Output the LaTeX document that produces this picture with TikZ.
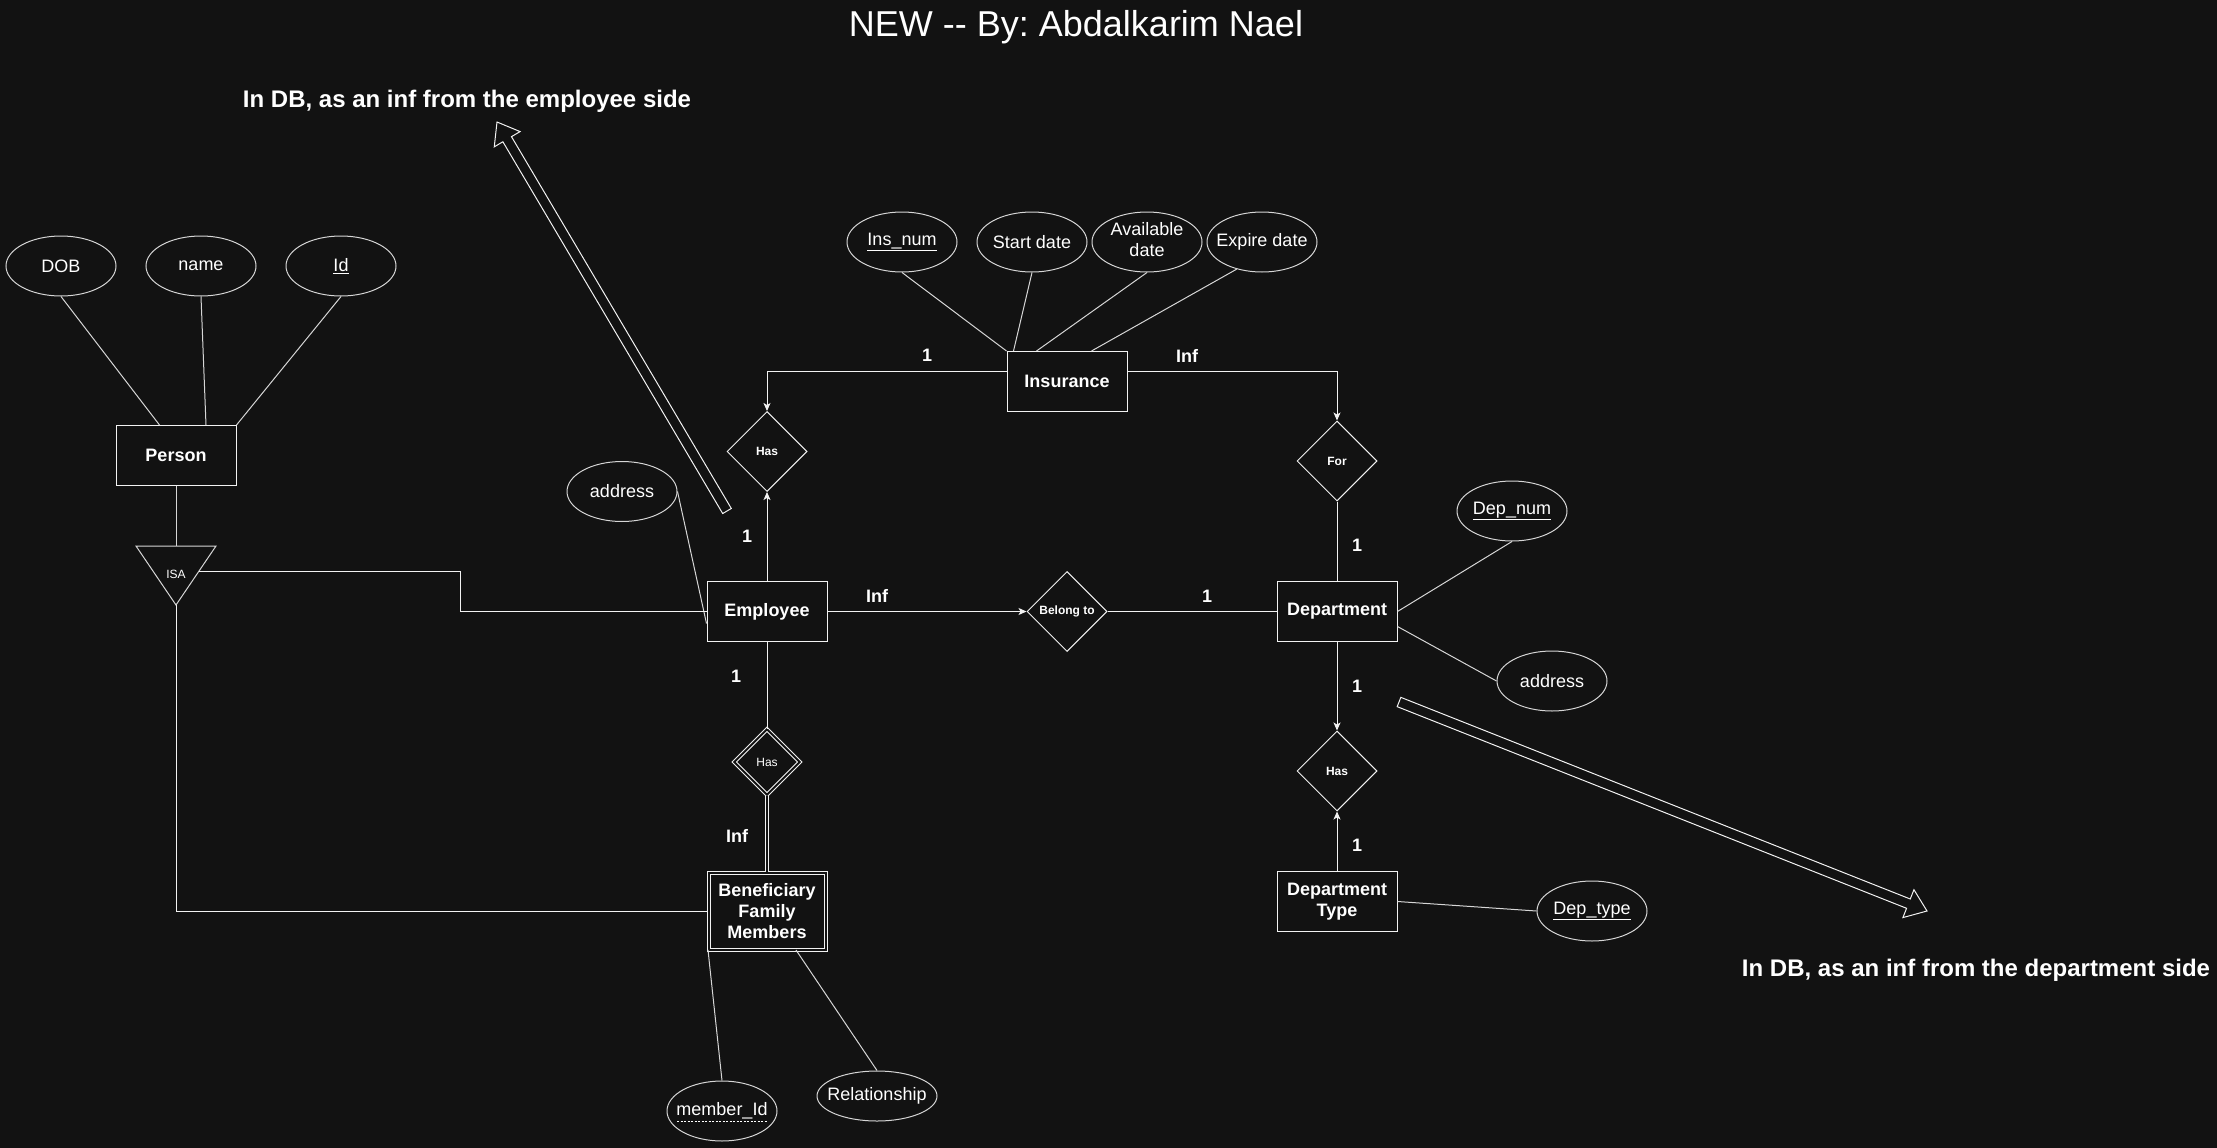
\documentclass[tikz,border=0pt]{standalone}
\usepackage{fontspec}
\setmainfont{Liberation Sans}
\usetikzlibrary{shapes.geometric,calc,arrows.meta}
\definecolor{bgc}{HTML}{121212}
\definecolor{lnc}{HTML}{F2F2F2}
\definecolor{atc}{HTML}{D6D6D6}
\newcommand\zerow[1]{\makebox[0pt]{#1}}
\newcommand\ulkey[1]{\raisebox{-2pt}{\underline{#1}}}
\begin{document}
\frenchspacing
\begin{tikzpicture}[x=1pt,y=-1pt,
  ent/.style={draw=lnc, line width=1pt, fill=bgc, text=white, minimum width=120pt, minimum height=60pt, inner sep=0pt, align=center, font=\fontsize{18}{21}\selectfont\bfseries},
  attr/.style={ellipse, draw=atc, line width=1pt, fill=bgc, text=white, minimum width=110pt, minimum height=60pt, inner sep=0pt, font=\fontsize{18}{21}\selectfont},
  rel/.style={diamond, draw=lnc, line width=1pt, fill=bgc, text=white, minimum width=80pt, minimum height=80pt, inner sep=0pt, font=\fontsize{12}{14}\selectfont\bfseries},
  card/.style={text=white, inner sep=0pt, font=\fontsize{18}{21}\selectfont\bfseries},
  note/.style={text=white, inner sep=0pt, font=\fontsize{24}{28}\selectfont\bfseries},
  conn/.style={draw=lnc, line width=1pt},
  attl/.style={draw=atc, line width=1pt},
  arr/.style={conn, -{Stealth[length=8pt,width=7pt,inset=2pt]}},
  blk/.style={draw=lnc, line width=1pt, line join=miter},
  ]
\fill[bgc] (0,0) rectangle (2217,1148);
\useasboundingbox (0,0) rectangle (2217,1148);

% title and notes
\node[text=white, inner sep=0pt, font=\fontsize{36}{40}\selectfont] (title) at (1076,27) {NEW -\kern0pt- By: Abdalkarim Nael};
\node[note] (noteemp) at (467,101) {In DB, as an inf from the employee side};
\node[note] (notedep) at (1976,970) {In DB, as an inf from the department side};

% entities
\node[ent] (person) at (176,455.5) {Person};
\node[ent] (emp) at (767,611.5) {Employee};
\node[ent] (ins) at (1067,381.5) {Insurance};
\node[ent] (dept) at (1337,611.5) {Department};
\node[ent] (dtype) at (1337,901.5) {Department\\Type};
\node[ent, minimum width=117pt, minimum height=77pt, double=bgc, double distance=2pt] (bfm) at (767,911) {Beneficiary\\Family\\Members};

% relationships
\node[rel] (ehas) at (767,451.5) {Has};
\node[rel] (for) at (1337,461) {For};
\node[rel] (belong) at (1067,611.5) {Belong to};
\node[rel] (dhas) at (1337,771) {Has};
\node[rel, minimum width=66pt, minimum height=66pt, double=bgc, double distance=2pt, font=\fontsize{12}{14}\selectfont] (whas) at (767,762) {Has};

% ISA triangle
\coordinate (isaL) at (136,546);
\coordinate (isaRt) at (216,546);
\coordinate (isaB) at (176,605);
\coordinate (isaT) at (176,546);
\coordinate (isaR) at ($(isaRt)!0.424!(isaB)$);
\draw[attl, line join=miter] (isaL) -- (isaRt) -- (isaB) -- cycle;
\node[text=white, inner sep=0pt, font=\fontsize{12}{14}\selectfont] (isa) at (176,574) {ISA};

% attributes
\node[attr] (dob) at (61,266) {\zerow{DOB}};
\node[attr] (name) at (201,266) {\zerow{name}};
\node[attr] (id) at (341,266) {\zerow{\ulkey{Id}}};
\node[attr] (insnum) at (902,242) {\zerow{\ulkey{Ins\_num}}};
\node[attr] (start) at (1032,242) {\zerow{Start date}};
\node[attr] (avail) at (1147,242) {\zerow{\begin{tabular}{@{}c@{}}Available\\date\end{tabular}}};
\node[attr] (expire) at (1262,242) {\zerow{Expire date}};
\node[attr] (eaddr) at (622,491.5) {\zerow{address}};
\node[attr] (depnum) at (1512,511) {\zerow{\ulkey{Dep\_num}}};
\node[attr] (daddr) at (1552,681) {\zerow{address}};
\node[attr] (deptype) at (1592,911) {\zerow{\ulkey{Dep\_type}}};
\node[attr] (mid) at (722,1111) {\zerow{member\_Id}};
\node[attr, minimum width=120pt, minimum height=50pt] (relat) at (877,1096) {\zerow{Relationship}};
\draw[white, line width=0.8pt, dash pattern=on 2pt off 1.5pt] ($(mid.center)+(-45,10)$) -- ($(mid.center)+(45,10)$);

% attribute lines
\draw[attl] (dob.south) -- ($(person.north west)+(44,0)$);
\draw[attl] (name.south) -- ($(person.north)+(30,0)$);
\draw[attl] (id.south) -- (person.north east);
\draw[attl] (insnum.south) -- (ins.north west);
\draw[attl] (start.south) -- ($(ins.north west)+(7,0)$);
\draw[attl] (avail.south) -- ($(ins.north west)+(30,0)$);
\draw[attl] (expire.227) -- ($(ins.north west)+(85,0)$);
\draw[attl] (eaddr.east) -- ($(emp.west)+(0,12)$);
\draw[attl] (dept.east) -- (depnum.south);
\draw[attl] ($(dept.east)+(0,15)$) -- (daddr.west);
\draw[attl] (dtype.east) -- (deptype.west);
\draw[attl] (bfm.south west) -- (mid.north);
\draw[attl] ($(bfm.south)+(29,0)$) -- (relat.north);

% ISA connections
\draw[attl] (person.south) -- (isaT);
\draw[conn] (isaR) -| ($(emp.west)+(-246,0)$) -- (emp.west);
\draw[conn] (isaB) |- (bfm.west);

% relationship connectors
\draw[arr] ($(ins.west)+(0,-10)$) -| (ehas.north);
\draw[arr] ($(ins.east)+(0,-10)$) -| (for.north);
\draw[arr] (emp.north) -- (ehas.south);
\draw[arr] (emp.east) -- (belong.west);
\draw[conn] (belong.east) -- (dept.west);
\draw[conn] (dept.north) -- (for.south);
\draw[arr] (dept.south) -- (dhas.north);
\draw[arr] (dtype.north) -- (dhas.south);
\draw[conn] (emp.south) -- (whas.north);
\draw[conn, double=bgc, double distance=2pt] (whas.south) -- (bfm.north);

% cardinalities
\node[card] (c1) at (927,355) {1};
\node[card] (c2) at (1187,356) {Inf};
\node[card] (c3) at (747,536) {1};
\node[card] (c4) at (877,596) {Inf};
\node[card] (c5) at (1207,596) {1};
\node[card] (c6) at (1357,545) {1};
\node[card] (c7) at (1357,686) {1};
\node[card] (c8) at (1357,845) {1};
\node[card] (c9) at (736,676) {1};
\node[card] (c10) at (737,836) {Inf};

% block arrows
\coordinate (a1t) at (727,511);
\coordinate (a1p) at (497,122);
\coordinate (a1b) at ($(a1p)!20pt!(a1t)$);
\draw[blk] ($(a1t)!5pt!90:(a1p)$) -- ($(a1b)!5pt!90:(a1p)$) -- ($(a1b)!15pt!90:(a1p)$) -- (a1p)
  -- ($(a1b)!15pt!-90:(a1p)$) -- ($(a1b)!5pt!-90:(a1p)$) -- ($(a1t)!5pt!-90:(a1p)$) -- cycle;
\coordinate (a2t) at (1399,702);
\coordinate (a2p) at (1927,911);
\coordinate (a2b) at ($(a2p)!20pt!(a2t)$);
\draw[blk] ($(a2t)!5pt!90:(a2p)$) -- ($(a2b)!5pt!90:(a2p)$) -- ($(a2b)!15pt!90:(a2p)$) -- (a2p)
  -- ($(a2b)!15pt!-90:(a2p)$) -- ($(a2b)!5pt!-90:(a2p)$) -- ($(a2t)!5pt!-90:(a2p)$) -- cycle;
\end{tikzpicture}
\end{document}
